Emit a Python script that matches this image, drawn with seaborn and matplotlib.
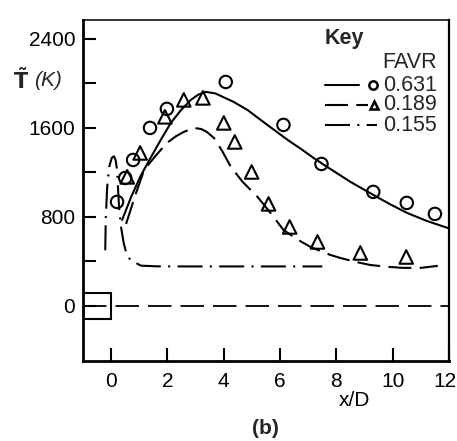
import numpy as np
import pandas as pd
import matplotlib
matplotlib.use('Agg')
import matplotlib.pyplot as plt
from matplotlib.patches import Rectangle
from matplotlib.transforms import ScaledTranslation
import seaborn as sns

# =====================================
# データ
# =====================================

# FAVR = 0.631 計算値（実線）
solid_x = [0.39, 0.71, 1.05, 1.42, 1.78, 2.12, 2.48, 2.83, 3.1, 3.36, 3.7,
           4.35, 4.85, 5.31, 5.8, 6.27, 6.75, 7.19, 7.7, 8.5, 9.31, 9.9,
           10.51, 11.2, 12.0]
solid_y = [773, 980, 1170, 1340, 1500, 1645, 1760, 1852, 1900, 1924, 1910,
           1834, 1760, 1672, 1580, 1492, 1410, 1330, 1245, 1115, 998, 915,
           836, 765, 697]

# FAVR = 0.189 計算値（破線）
dash_x = [0.53, 0.85, 1.17, 1.58, 1.98, 2.3, 2.58, 2.94, 3.2, 3.4, 3.65,
          3.95, 4.25, 4.67, 5.2, 5.66, 6.12, 6.6, 7.08, 7.79, 8.14, 8.7,
          9.2, 9.8, 10.37, 11.0, 11.6]
dash_y = [737, 990, 1222, 1350, 1465, 1525, 1564, 1600, 1590, 1564, 1510,
          1390, 1250, 1115, 980, 836, 683, 600, 530, 458, 431, 395,
          368, 352, 342, 342, 360]

# FAVR = 0.155 計算値（一点鎖線）
dd_x = [-0.21, -0.19, -0.14, -0.07, 0.02, 0.1, 0.16, 0.21, 0.28, 0.35,
        0.45, 0.53, 0.65, 0.81, 1.06, 1.6, 2.12, 3.0, 4.5, 6.0, 7.5]
dd_y = [500, 800, 1070, 1250, 1330, 1345, 1310, 1222, 890, 710,
        560, 485, 425, 395, 362, 356, 355, 355, 355, 355, 355]

# 実験値
circ_x = [0.21, 0.5, 0.78, 1.38, 1.98, 4.07, 6.12, 7.47, 9.31, 10.5, 11.5]
circ_y = [935, 1150, 1312, 1600, 1771, 2013, 1627, 1276, 1025, 926, 827]

tri_x = [0.57, 1.03, 1.91, 2.58, 3.26, 4.0, 4.39, 4.99, 5.59, 6.34, 7.33,
         8.85, 10.48]
tri_y = [1160, 1375, 1700, 1852, 1870, 1645, 1474, 1204, 917, 710, 575,
         476, 440]

favr_labels = ['0.631', '0.189', '0.155']

x_ticks = [0, 2, 4, 6, 8, 10, 12]
y_ticks = [0, 400, 800, 1200, 1600, 2000, 2400]
y_ticklabels = ['0', '', '800', '', '1600', '', '2400']

# =====================================
# 描画設定
# =====================================
sns.set_theme(style='white')
plt.rcParams['font.family'] = ['Liberation Sans', 'DejaVu Sans']
plt.rcParams['font.size'] = 15

fig = plt.figure(figsize=(4.57, 4.41), dpi=100)
ax = fig.add_axes([83 / 457, 80 / 441, 366 / 457, 341 / 441])

solid_style = '-'
dash_style = (0, (11, 4))
dd_style = (0, (12, 3.5, 1, 3.5))
lw = 1.5

sns.lineplot(x=solid_x, y=solid_y, ax=ax, color='black', linewidth=lw,
             sort=False, estimator=None, linestyle=solid_style)
sns.lineplot(x=dash_x, y=dash_y, ax=ax, color='black', linewidth=lw,
             sort=False, estimator=None, linestyle=dash_style)
sns.lineplot(x=dd_x, y=dd_y, ax=ax, color='black', linewidth=lw,
             sort=False, estimator=None, linestyle=dd_style)

sns.scatterplot(x=circ_x, y=circ_y, ax=ax, marker='o', s=80,
                facecolor='none', edgecolor='black', linewidth=1.5, zorder=3)
sns.scatterplot(x=tri_x, y=tri_y, ax=ax, marker='^', s=95,
                facecolor='none', edgecolor='black', linewidth=1.5, zorder=3)

# 壁面（x/D = 0 の段差）と基準線
ax.axhline(0, color='black', linewidth=1.3, linestyle=(0, (13, 5)))
ax.add_patch(Rectangle((-1, -117), 1, 234, fill=False, edgecolor='black',
                       linewidth=1.5, zorder=4))

ax.set_xlim(-1, 12)
ax.set_ylim(-495, 2570)
ax.set_xticks(x_ticks)
ax.set_yticks(y_ticks, labels=y_ticklabels)
ax.tick_params(direction='in', length=9.5, width=1.5, color='black',
               labelsize=15, labelcolor='black')
ax.tick_params(axis='y', pad=5.5)
ax.tick_params(axis='x', pad=8)
ax.tick_params(top=False, right=False, left=True, bottom=True)

# 右端の「12」が切れないよう少し左へ
last = ax.get_xticklabels()[-1]
last.set_transform(last.get_transform() +
                   ScaledTranslation(-4 / 100, 0, fig.dpi_scale_trans))

for side, w in [('left', 2.0), ('bottom', 2.0), ('right', 1.6), ('top', 1.1)]:
    ax.spines[side].set_color('black')
    ax.spines[side].set_linewidth(w)

ax.set_xlabel('x/D', fontsize=15, color='black')
ax.xaxis.set_label_coords(0.743, -0.088)
ax.set_ylabel('')

# 縦軸ラベル
fig.text(21 / 457, 1 - 80 / 441, r'$\mathbf{\tilde{T}}$', fontsize=15,
         ha='center', va='center')
fig.text(34 / 457, 1 - 80 / 441, '(K)', fontsize=15, style='italic',
         ha='left', va='center')
fig.text(265 / 457, 1 - 428 / 441, '(b)', fontsize=15, weight='bold',
         ha='center', va='center')

# 凡例（手書き）
tr = ax.transAxes
ax.text(0.661, 0.947, 'Key', transform=tr, fontsize=15.5, weight='bold',
        ha='left', va='center')
ax.text(0.967, 0.874, 'FAVR', transform=tr, fontsize=15.5,
        ha='right', va='center')
rows = [(0.809, solid_style, 0.754, 'o', 0.792),
        (0.751, dash_style, 0.779, '^', 0.795),
        (0.692, dd_style, 0.803, None, None)]
for (yy, ls, x_end, mk, mk_x), lab in zip(rows, favr_labels):
    ax.plot([0.661, x_end], [yy, yy], transform=tr, color='black',
            linewidth=lw, linestyle=ls)
    if mk is not None:
        ax.plot([mk_x], [yy], transform=tr, marker=mk, markersize=6,
                markerfacecolor='none', markeredgecolor='black',
                markeredgewidth=1.8, linestyle='none')
    ax.text(0.967, yy, lab, transform=tr, fontsize=15.5, ha='right',
            va='center')

fig.savefig('out.png', dpi=100, facecolor='white')
